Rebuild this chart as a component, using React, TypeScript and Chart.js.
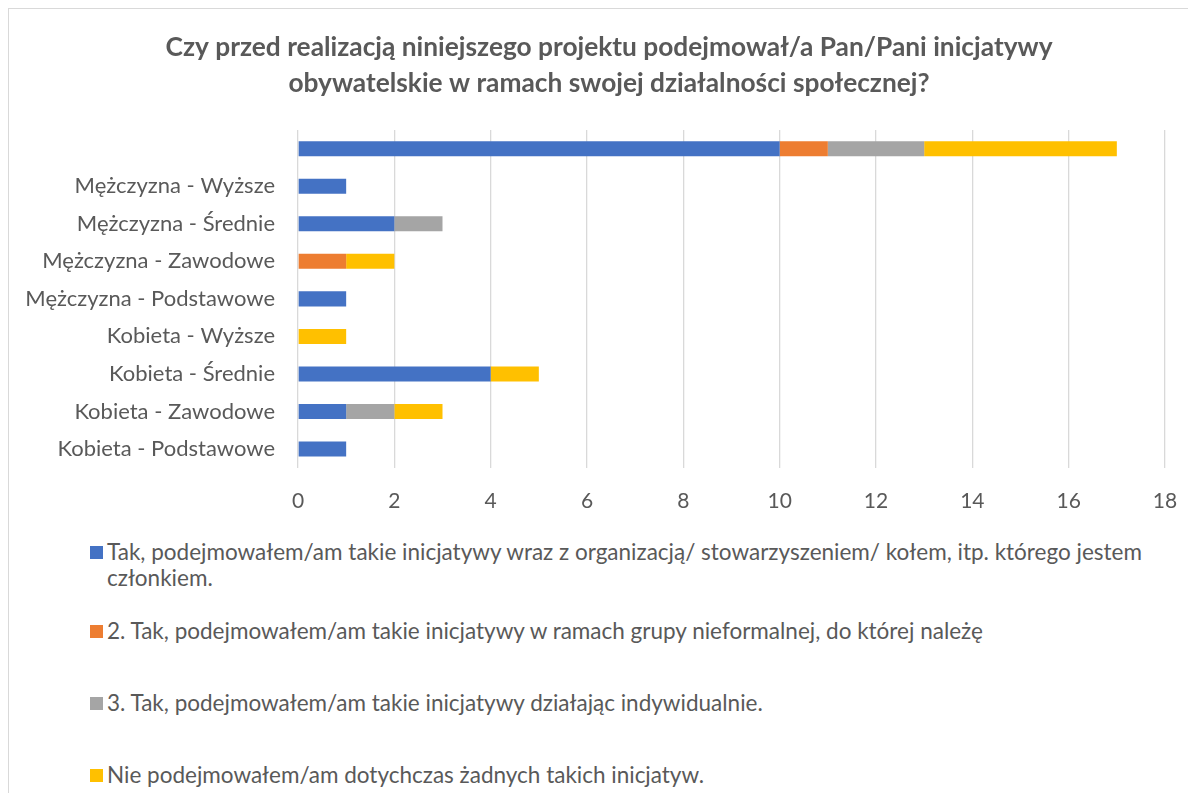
import React, { useEffect, useRef } from "react";
import { Chart, registerables } from "chart.js";

Chart.register(...registerables);

const categories = [
  "",
  "Mężczyzna - Wyższe",
  "Mężczyzna - Średnie",
  "Mężczyzna - Zawodowe",
  "Mężczyzna - Podstawowe",
  "Kobieta - Wyższe",
  "Kobieta - Średnie",
  "Kobieta - Zawodowe",
  "Kobieta - Podstawowe",
];

const seriesNames = [
  "Tak, podejmowałem/am takie inicjatywy wraz z organizacją/ stowarzyszeniem/ kołem, itp. którego jestem członkiem.",
  "2. Tak, podejmowałem/am takie inicjatywy w ramach grupy nieformalnej, do której należę",
  "3. Tak, podejmowałem/am takie inicjatywy działając indywidualnie.",
  "Nie podejmowałem/am dotychczas żadnych takich inicjatyw.",
];

const seriesColors = ["#4472C4", "#ED7D31", "#A5A5A5", "#FFC000"];

const withOrganization = [10, 1, 2, 0, 1, 0, 4, 1, 1];
const informalGroup = [1, 0, 0, 1, 0, 0, 0, 0, 0];
const individually = [2, 0, 1, 0, 0, 0, 0, 1, 0];
const noInitiatives = [4, 0, 0, 1, 0, 1, 1, 1, 0];

const seriesValues = [withOrganization, informalGroup, individually, noInitiatives];

const xTicks = [0, 2, 4, 6, 8, 10, 12, 14, 16, 18];

const titleLines = [
  "Czy przed realizacją niniejszego projektu podejmował/a Pan/Pani inicjatywy",
  "obywatelskie w ramach swojej działalności społecznej?",
];

const FONT = "Lato, 'Open Sans', sans-serif";
const TEXT = "#595959";

const legendTops = [530, 609, 681, 753];

const PAD_LEFT = 13;
const PLOT_RIGHT_GAP = 31;

export default function App() {
  const canvasRef = useRef<HTMLCanvasElement | null>(null);

  useEffect(() => {
    const ctx = canvasRef.current;
    if (!ctx) return;
    const chart = new Chart(ctx, {
      type: "bar",
      data: {
        labels: categories,
        datasets: seriesNames.map((name, i) => ({
          label: name,
          data: seriesValues[i],
          backgroundColor: seriesColors[i],
          borderWidth: 0,
          categoryPercentage: 1,
          barPercentage: 0.4,
        })),
      },
      options: {
        indexAxis: "y",
        responsive: true,
        maintainAspectRatio: false,
        animation: false,
        layout: { padding: { left: PAD_LEFT, right: 0, top: 0, bottom: 0 } },
        plugins: {
          legend: { display: false },
          tooltip: { enabled: false },
          title: {
            display: true,
            text: titleLines,
            color: TEXT,
            font: { family: FONT, size: 26.3, weight: "bold", lineHeight: 36 / 26.3 },
            padding: { top: 21, bottom: 28 },
          },
        },
        scales: {
          x: {
            stacked: true,
            min: 0,
            max: 18,
            afterBuildTicks: (scale: any) => {
              scale.ticks = xTicks.map((v) => ({ value: v }));
            },
            afterFit: (scale: any) => {
              scale.height = 520 - 458.75;
              scale.paddingRight = PLOT_RIGHT_GAP;
            },
            grid: {
              color: "#d9d9d9",
              lineWidth: 1.3,
              drawTicks: true,
              tickLength: 21,
              tickColor: "rgba(0,0,0,0)",
            },
            border: { display: false },
            ticks: {
              color: TEXT,
              padding: 0,
              font: { family: FONT, size: 21 },
            },
          },
          y: {
            stacked: true,
            afterFit: (scale: any) => {
              scale.width = 289 - PAD_LEFT;
            },
            grid: { display: false, drawTicks: false },
            border: { display: false },
            ticks: {
              color: TEXT,
              padding: 23,
              font: { family: FONT, size: 22 },
            },
          },
        },
      },
    });
    return () => chart.destroy();
  }, []);

  return (
    <div
      style={{
        position: "relative",
        width: 1187,
        height: 784,
        borderTop: "1px solid #d9d9d9",
        borderLeft: "1px solid #d9d9d9",
        background: "#fff",
        fontFamily: FONT,
      }}
    >
      <div style={{ position: "absolute", left: 0, top: 0, width: 1187, height: 520 }}>
        <canvas ref={canvasRef} />
      </div>
      {seriesNames.map((name, i) => (
        <div
          key={name}
          style={{
            position: "absolute",
            left: 81,
            top: legendTops[i],
            display: "flex",
            alignItems: "flex-start",
            color: TEXT,
            fontSize: 22.5,
            lineHeight: "26px",
          }}
        >
          <span
            style={{
              display: "inline-block",
              width: 13,
              height: 13,
              marginTop: 6.5,
              marginRight: 4,
              background: seriesColors[i],
              flex: "0 0 auto",
            }}
          />
          <span style={{ width: 1060 }}>{name}</span>
        </div>
      ))}
    </div>
  );
}
